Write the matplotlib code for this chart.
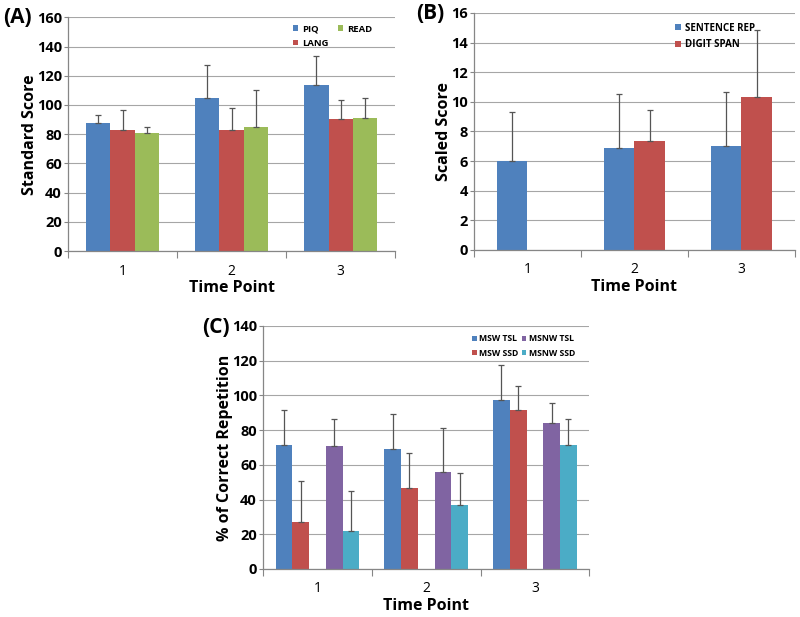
import numpy as np
import matplotlib
matplotlib.use("Agg")
import matplotlib.pyplot as plt
from matplotlib.patches import Patch

plt.rcParams['font.family'] = ['Open Sans', 'DejaVu Sans']

time_points = ["1", "2", "3"]

# Panel A
piq_mean = [88.0, 104.6, 113.4]
piq_sd = [5.4, 22.8, 20.2]
lang_mean = [83.0, 82.6, 90.7]
lang_sd = [13.4, 15.4, 12.8]
read_mean = [81.0, 84.8, 91.4]
read_sd = [4.0, 25.1, 13.2]

# Panel B
sent_mean = [6.02, 6.85, 6.99]
sent_sd = [3.26, 3.67, 3.67]
digit_mean = [np.nan, 7.32, 10.34]
digit_sd = [np.nan, 2.10, 4.49]

# Panel C
msw_tsl_mean = [71.6, 69.3, 97.1]
msw_tsl_sd = [20.0, 20.2, 20.5]
msw_ssd_mean = [27.2, 46.6, 91.4]
msw_ssd_sd = [23.4, 20.1, 14.2]
msnw_tsl_mean = [70.9, 55.7, 83.9]
msnw_tsl_sd = [15.5, 25.5, 11.7]
msnw_ssd_mean = [22.0, 36.8, 71.3]
msnw_ssd_sd = [23.2, 18.4, 14.9]

BLUE = "#4F81BD"
RED = "#C0504D"
GREEN = "#9BBB59"
PURPLE = "#8064A2"
CYAN = "#4BACC6"
GRID = "#A6A6A6"
AXC = "#868686"

fig = plt.figure(figsize=(8, 6.17), dpi=100)


def style_axes(ax, ymax, ystep, ylabel):
    ax.set_xlim(-0.5, 2.5)
    ax.set_ylim(0, ymax)
    ax.set_yticks(np.arange(0, ymax + ystep / 2, ystep))
    ax.yaxis.grid(True, color=GRID, linewidth=0.8)
    ax.set_axisbelow(True)
    for s in ["top", "right"]:
        ax.spines[s].set_visible(False)
    for s in ["left", "bottom"]:
        ax.spines[s].set_color(AXC)
        ax.spines[s].set_linewidth(0.9)
    ax.set_xticks([-0.5, 0.5, 1.5, 2.5])
    ax.set_xticklabels([])
    ax.set_xticks([0, 1, 2], minor=True)
    ax.set_xticklabels(time_points, minor=True, fontsize=10)
    ax.tick_params(axis="x", which="major", direction="out", length=5, color=AXC)
    ax.tick_params(axis="x", which="minor", length=0, pad=9)
    ax.tick_params(axis="y", direction="out", length=3, pad=1.5, color=AXC, labelsize=10.5)
    for lab in ax.get_yticklabels():
        lab.set_fontweight("bold")
    ax.set_xlabel("Time Point", fontsize=11.5, fontweight="bold", labelpad=1)
    ax.set_ylabel(ylabel, fontsize=11.5, fontweight="bold", labelpad=-1)


def draw_bars(ax, series, nslots, slot_idx):
    w = 1.0 / (nslots + 1.5)
    x = np.arange(3)
    handles = []
    for (mean, sd, color, label), j in zip(series, slot_idx):
        off = (j - (nslots - 1) / 2) * w
        mean = np.array(mean, dtype=float)
        sd = np.array(sd, dtype=float)
        ax.bar(x + off, np.nan_to_num(mean), width=w, color=color, zorder=2)
        ok = ~np.isnan(mean)
        ax.errorbar((x + off)[ok], mean[ok],
                    yerr=[np.zeros(ok.sum()), sd[ok]],
                    fmt="none", ecolor="#555555", elinewidth=0.9,
                    capsize=2.2, capthick=0.9, zorder=3)
        handles.append(Patch(facecolor=color, label=label))
    return handles


def legend(ax, handles, bbox, ncol, size=7, colsp=1.0):
    leg = ax.legend(handles=handles, ncol=ncol, loc="upper left",
                    bbox_to_anchor=bbox, frameon=False,
                    prop={"size": size, "weight": "bold"},
                    handlelength=0.55, handleheight=0.55,
                    handletextpad=0.5, columnspacing=colsp, labelspacing=0.55,
                    borderaxespad=0)
    return leg


# Panel A
axA = fig.add_axes([0.085, 0.593, 0.409, 0.379])
hA = draw_bars(axA, [(piq_mean, piq_sd, BLUE, "PIQ"),
                     (lang_mean, lang_sd, RED, "LANG"),
                     (read_mean, read_sd, GREEN, "READ")], 3, [0, 1, 2])
style_axes(axA, 160, 20, "Standard Score")
legend(axA, hA, (0.675, 0.985), 2, size=6.8, colsp=0.9)
fig.text(0.004, 0.972, "(A)", fontsize=15, fontweight="bold", va="center")

# Panel B
axB = fig.add_axes([0.5925, 0.595, 0.401, 0.384])
hB = draw_bars(axB, [(sent_mean, sent_sd, BLUE, "SENTENCE REP"),
                     (digit_mean, digit_sd, RED, "DIGIT SPAN")], 2, [0, 1])
style_axes(axB, 16, 2, "Scaled Score")
legend(axB, hB, (0.615, 0.975), 1)
fig.text(0.52, 0.978, "(B)", fontsize=15, fontweight="bold", va="center")

# Panel C
axC = fig.add_axes([0.329, 0.0778, 0.4075, 0.394])
hC = draw_bars(axC, [(msw_tsl_mean, msw_tsl_sd, BLUE, "MSW TSL"),
                     (msw_ssd_mean, msw_ssd_sd, RED, "MSW SSD"),
                     (msnw_tsl_mean, msnw_tsl_sd, PURPLE, "MSNW TSL"),
                     (msnw_ssd_mean, msnw_ssd_sd, CYAN, "MSNW SSD")], 5, [0, 1, 3, 4])
style_axes(axC, 140, 20, "% of Correct Repetition")
axC.legend(handles=hC, ncol=2, loc="upper left",
           bbox_to_anchor=(0.63, 0.98), frameon=False,
           prop={"size": 6.2, "weight": "bold"},
           handlelength=0.55, handleheight=0.55,
           handletextpad=0.3, columnspacing=0.35, labelspacing=0.65,
           borderaxespad=0)
fig.text(0.253, 0.47, "(C)", fontsize=15, fontweight="bold", va="center")

fig.savefig("out.png", dpi=100)
